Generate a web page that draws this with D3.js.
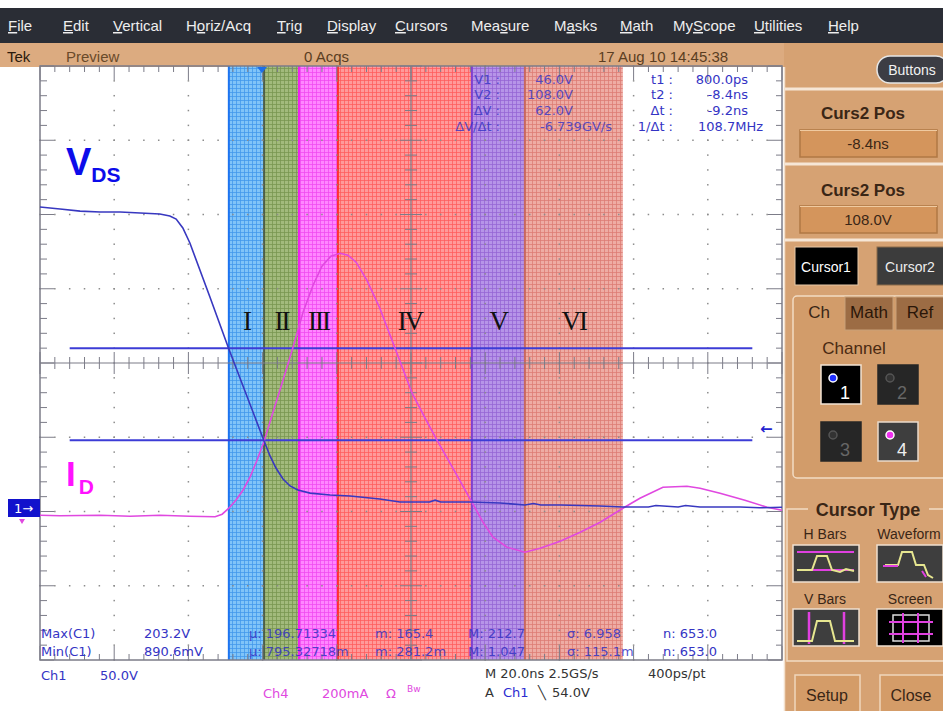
<!DOCTYPE html>
<html>
<head>
<meta charset="utf-8">
<script src="https://cdn.jsdelivr.net/npm/d3@7"></script>
<style>
body { margin: 0; background: #fff; }
svg { display: block; }
</style>
</head>
<body>
<div id="scope"></div>
<script>
// ---- data ----
var menuLabels = ["File", "Edit", "Vertical", "Horiz/Acq", "Trig", "Display", "Cursors", "Measure", "Masks", "Math", "MyScope", "Utilities", "Help"];
var menuUnderline = [0, 0, 0, 1, 0, 0, 0, 3, 1, 0, 2, 0, 0];

var phaseLabels = ["I", "II", "III", "IV", "V", "VI"];
var phaseStartNs = [-49.1, -39.6, -30.2, -19.7, 16.4, 30.7];
var phaseEndNs = [-39.6, -30.2, -19.7, 16.4, 30.7, 57.1];

// Ch1, V_DS in volts
var vdsTimeNs = [-100, -94.6, -89.2, -83.8, -78.4, -73.0, -67.7, -65.0, -63.3, -61.5, -59.6, -54.2, -49.1, -39.6, -38.0, -36.4, -34.5, -32.6, -30.5, -27.2, -21.8, -16.4, -8.4, -3.0, 5.0, 6.5, 8.0, 15.9, 24.0, 30.7, 33.0, 35.0, 40.2, 50.9, 57.1, 64.0, 66.0, 72.0, 74.0, 77.9, 88.7, 94.0, 100];
var vdsVolts = [203.0, 201.7, 200.3, 199.7, 199.7, 199.0, 198.3, 197.0, 194.9, 188.9, 178.8, 142.4, 107.4, 45.5, 35.4, 27.3, 19.9, 15.2, 12.5, 10.4, 9.1, 8.4, 6.4, 4.4, 4.4, 5.6, 4.4, 4.4, 3.7, 2.4, 3.4, 2.4, 2.4, 1.7, 1.0, 1.0, 2.0, 1.0, 2.0, 1.0, 1.0, 0.5, 0.9];

// Ch4, I_D in mA
var idTimeNs = [-100, -94.6, -83.8, -75.7, -67.7, -59.6, -52.8, -50.9, -49.1, -47.2, -45.3, -43.4, -41.5, -39.6, -37.2, -34.5, -31.8, -29.1, -26.4, -24.0, -21.6, -19.1, -17.0, -14.8, -11.9, -8.4, -4.3, 0.3, 3.8, 7.0, 11.9, 16.4, 19.4, 22.1, 25.9, 30.7, 34.8, 40.2, 45.6, 51.0, 57.1, 61.7, 67.9, 74.4, 77.9, 83.3, 90.0, 96.0, 100];
var idMilliamps = [0, -1.3, 0, -2.7, 0, -2.7, -4, 2.7, 18.9, 40.4, 67.3, 102.4, 148.1, 199.3, 277.4, 363.6, 452.5, 546.8, 619.5, 670.7, 697.6, 705.7, 700.3, 681.5, 633.0, 557.6, 449.8, 328.6, 261.3, 202.0, 115.8, 35.0, -18.9, -59.3, -86.2, -99.7, -88.9, -70.0, -45.8, -18.9, 18.9, 45.8, 75.4, 78.1, 72.7, 59.3, 40.4, 21.5, 13.5];

var cursorVolts = [46.0, 108.0];
var voltReadLabels = ["V1 :", "V2 :", "\u0394V :", "\u0394V/\u0394t :"];
var voltReadValues = ["46.0V", "108.0V", "62.0V", "-6.739GV/s"];
var timeReadLabels = ["t1 :", "t2 :", "\u0394t :", "1/\u0394t :"];
var timeReadValues = ["800.0ps", "-8.4ns", "-9.2ns", "108.7MHz"];

var measNames = ["Max(C1)", "Min(C1)"];
var measValues = ["203.2V", "890.6mV"];
var measMean = ["196.71334", "795.32718m"];
var measMin = ["165.4", "281.2m"];
var measMax = ["212.7", "1.047"];
var measSigma = ["6.958", "115.1m"];
var measCount = ["653.0", "653.0"];

var ch1VoltsPerDiv = 50, ch1Pos = -1.96;
var ch4MaPerDiv = 200, ch4Pos = -2.05;

// ---- layout ----
var W = 943, H = 711;
var plot = {left: 40, right: 782, top: 66, bottom: 660};
var phaseBase = ["#80c4f8", "#a2ba7c", "#ff86ff", "#ff9a9a", "#b694e8", "#eeaca4"];
var phaseLine = ["#4096ea", "#76944f", "#f048f0", "#ff5a5a", "#9464d4", "#dc7a72"];
var phaseEdge = ["#1c74f0", "#4f5f46", "#f020f0", "#ff3030", "#8040d0", "#c86860"];
var sansNarrow = "'Liberation Sans', Arial, sans-serif";
var scopeFont = "'DejaVu Sans', sans-serif";
var blueTxt = "#3434c4";

var svg = d3.select("#scope").append("svg")
    .attr("width", W)
    .attr("height", H);

var x = d3.scaleLinear().domain([-100, 100]).range([plot.left, plot.right]);
var yDiv = d3.scaleLinear().domain([-4, 4]).range([plot.bottom, plot.top]);
function yVds(v) { return yDiv(v / ch1VoltsPerDiv + ch1Pos); }
function yId(i) { return yDiv(i / ch4MaPerDiv + ch4Pos); }

svg.append("rect").attr("width", W).attr("height", H).attr("fill", "#fff");

// menu bar
svg.append("rect").attr("x", 0).attr("y", 8).attr("width", W).attr("height", 35).attr("fill", "#2a2d35");
var menuX = [8, 63, 113, 186, 277, 327, 395, 471, 554, 620, 673, 754, 828];
menuLabels.forEach(function(m, i) {
    var t = svg.append("text")
        .attr("x", menuX[i]).attr("y", 31)
        .attr("fill", "#eeeeee")
        .style("font-family", sansNarrow).style("font-size", "15px");
    var k = menuUnderline[i];
    if (k > 0) t.append("tspan").text(m.slice(0, k));
    t.append("tspan").text(m.charAt(k)).style("text-decoration", "underline");
    t.append("tspan").text(m.slice(k + 1));
});

// status row
svg.append("rect").attr("x", 0).attr("y", 43).attr("width", 785).attr("height", 24).attr("fill", "#dcab80");
var statusRow = [
    {t: "Tek", x: 7, c: "#2b1a0c"},
    {t: "Preview", x: 66, c: "#6a4a2a"},
    {t: "0 Acqs", x: 304, c: "#5a3e22"},
    {t: "17 Aug 10 14:45:38", x: 598, c: "#5a3e22"}
];
svg.selectAll(".status").data(statusRow).enter().append("text")
    .attr("x", function(d) { return d.x; }).attr("y", 62)
    .attr("fill", function(d) { return d.c; })
    .style("font-family", sansNarrow).style("font-size", "15px")
    .text(function(d) { return d.t; });

// ---- phase regions ----
var defs = svg.append("defs");
phaseLabels.forEach(function(p, i) {
    var pat = defs.append("pattern")
        .attr("id", "pat" + i)
        .attr("patternUnits", "userSpaceOnUse")
        .attr("width", 4).attr("height", 4);
    pat.append("rect").attr("width", 4).attr("height", 4).attr("fill", phaseBase[i]);
    pat.append("path").attr("d", "M0,0.5H4M0.5,0V4")
        .attr("stroke", phaseLine[i]).attr("stroke-width", 1).attr("stroke-opacity", 0.75);
});

var regions = svg.append("g");
phaseLabels.forEach(function(p, i) {
    regions.append("rect")
        .attr("x", x(phaseStartNs[i]))
        .attr("y", plot.top)
        .attr("width", x(phaseEndNs[i]) - x(phaseStartNs[i]))
        .attr("height", plot.bottom - plot.top)
        .attr("fill", "url(#pat" + i + ")");
    regions.append("line")
        .attr("x1", x(phaseStartNs[i])).attr("x2", x(phaseStartNs[i]))
        .attr("y1", plot.top).attr("y2", plot.bottom)
        .attr("stroke", phaseEdge[i]).attr("stroke-width", 2);
});

// ---- graticule ----
var grid = svg.append("g");
var minorT = d3.range(-100, 100.01, 4);
var minorD = d3.range(-4, 4.001, 0.2);
var majorT = d3.range(-80, 80.01, 20);
var majorD = d3.range(-3, 3.001, 1);
function isMajorT(t) { return Math.abs(t / 20 - Math.round(t / 20)) < 1e-6; }
function isMajorD(d) { return Math.abs(d - Math.round(d)) < 1e-6; }

majorT.forEach(function(t) {
    if (t === 0) return;
    minorD.forEach(function(d) {
        grid.append("rect").attr("x", x(t) - 0.75).attr("y", yDiv(d) - 0.75)
            .attr("width", 1.5).attr("height", 1.5).attr("fill", "#8c8c8c");
    });
});
majorD.forEach(function(d) {
    if (d === 0) return;
    minorT.forEach(function(t) {
        grid.append("rect").attr("x", x(t) - 0.75).attr("y", yDiv(d) - 0.75)
            .attr("width", 1.5).attr("height", 1.5).attr("fill", "#8c8c8c");
    });
});

var gStroke = "#7c7c88";
// center cross
grid.append("line").attr("x1", plot.left).attr("x2", plot.right)
    .attr("y1", yDiv(0)).attr("y2", yDiv(0)).attr("stroke", gStroke).attr("stroke-width", 1.2);
grid.append("line").attr("x1", x(0)).attr("x2", x(0))
    .attr("y1", plot.top).attr("y2", plot.bottom).attr("stroke", gStroke).attr("stroke-width", 1.2);
minorT.forEach(function(t) {
    var h = isMajorT(t) ? 11 : 6;
    grid.append("line").attr("x1", x(t)).attr("x2", x(t))
        .attr("y1", yDiv(0) - h).attr("y2", yDiv(0) + h).attr("stroke", gStroke);
    grid.append("line").attr("x1", x(t)).attr("x2", x(t))
        .attr("y1", plot.top).attr("y2", plot.top + (isMajorT(t) ? 14 : 6)).attr("stroke", gStroke);
    grid.append("line").attr("x1", x(t)).attr("x2", x(t))
        .attr("y1", plot.bottom).attr("y2", plot.bottom - (isMajorT(t) ? 14 : 6)).attr("stroke", gStroke);
});
minorD.forEach(function(d) {
    var h = isMajorD(d) ? 11 : 6;
    grid.append("line").attr("y1", yDiv(d)).attr("y2", yDiv(d))
        .attr("x1", x(0) - h).attr("x2", x(0) + h).attr("stroke", gStroke);
    grid.append("line").attr("y1", yDiv(d)).attr("y2", yDiv(d))
        .attr("x1", plot.left).attr("x2", plot.left + (isMajorD(d) ? 14 : 7)).attr("stroke", gStroke);
    grid.append("line").attr("y1", yDiv(d)).attr("y2", yDiv(d))
        .attr("x1", plot.right).attr("x2", plot.right - (isMajorD(d) ? 14 : 6)).attr("stroke", gStroke);
});
grid.append("rect")
    .attr("x", plot.left).attr("y", plot.top)
    .attr("width", plot.right - plot.left).attr("height", plot.bottom - plot.top)
    .attr("fill", "none").attr("stroke", gStroke).attr("stroke-width", 1.5);

// ---- H bar cursors ----
svg.selectAll(".cursor").data(cursorVolts).enter().append("line")
    .attr("x1", x(-92)).attr("x2", x(92))
    .attr("y1", function(d) { return yVds(d); })
    .attr("y2", function(d) { return yVds(d); })
    .attr("stroke", "#3c3cd6").attr("stroke-width", 2);

// ---- waveforms ----
var vdsData = vdsTimeNs.map(function(t, i) { return {t: t, v: vdsVolts[i]}; });
var idData = idTimeNs.map(function(t, i) { return {t: t, v: idMilliamps[i]}; });

svg.append("path").datum(idData)
    .attr("fill", "none").attr("stroke", "#e048e0").attr("stroke-width", 1.6)
    .attr("d", d3.line().x(function(d) { return x(d.t); }).y(function(d) { return yId(d.v); }));
svg.append("path").datum(vdsData)
    .attr("fill", "none").attr("stroke", "#3838c0").attr("stroke-width", 1.6)
    .attr("d", d3.line().x(function(d) { return x(d.t); }).y(function(d) { return yVds(d.v); }));

// ---- labels ----
var vdsLbl = svg.append("text").attr("x", 66).attr("y", 175)
    .attr("fill", "#0c0cea").style("font-family", sansNarrow).style("font-weight", "bold");
vdsLbl.append("tspan").text("V").style("font-size", "38px");
vdsLbl.append("tspan").text("DS").attr("dy", 7).style("font-size", "21px");
var idLbl = svg.append("text").attr("x", 66).attr("y", 486)
    .attr("fill", "#ff12ff").style("font-family", sansNarrow).style("font-weight", "bold");
idLbl.append("tspan").text("I").style("font-size", "35px");
idLbl.append("tspan").text("D").attr("dx", 3).attr("dy", 8).style("font-size", "21px");

svg.selectAll(".phase").data(phaseLabels).enter().append("text")
    .attr("x", function(d, i) { return (x(phaseStartNs[i]) + x(phaseEndNs[i])) / 2 + (d === "IV" ? 5 : 0); })
    .attr("y", 330)
    .attr("text-anchor", "middle")
    .attr("fill", "#111")
    .style("font-family", "'Liberation Serif', 'Times New Roman', serif")
    .style("font-size", "27px")
    .style("letter-spacing", "-2px")
    .text(function(d) { return d; });

// ---- cursor readouts ----
var readY = [84, 99, 115, 131];
var ro = svg.append("g").style("font-family", scopeFont).style("font-size", "13px").attr("fill", blueTxt);
voltReadLabels.forEach(function(l, i) {
    ro.append("text").attr("x", 500).attr("y", readY[i]).attr("text-anchor", "end").attr("opacity", 0.8).text(l);
    ro.append("text").attr("x", i === 3 ? 612 : 573).attr("y", readY[i]).attr("text-anchor", "end").attr("opacity", 0.8).text(voltReadValues[i]);
});
timeReadLabels.forEach(function(l, i) {
    ro.append("text").attr("x", 673).attr("y", readY[i]).attr("text-anchor", "end").text(l);
    ro.append("text").attr("x", i === 3 ? 763 : 748).attr("y", readY[i]).attr("text-anchor", "end").text(timeReadValues[i]);
});

// ---- measurements at the bottom of the graticule ----
var measY = [638, 656];
var mg = svg.append("g").style("font-family", scopeFont).style("font-size", "13px").attr("fill", blueTxt);
measNames.forEach(function(n, i) {
    mg.append("text").attr("x", 41).attr("y", measY[i]).text(n);
    mg.append("text").attr("x", 144).attr("y", measY[i]).text(measValues[i]);
    mg.append("text").attr("x", 249).attr("y", measY[i]).attr("opacity", 0.85).text("\u03bc: " + measMean[i]);
    mg.append("text").attr("x", 375).attr("y", measY[i]).attr("opacity", 0.85).text("m: " + measMin[i]);
    mg.append("text").attr("x", 468).attr("y", measY[i]).attr("opacity", 0.85).text("M: " + measMax[i]);
    mg.append("text").attr("x", 567).attr("y", measY[i]).attr("opacity", 0.85).text("\u03c3: " + measSigma[i]);
    mg.append("text").attr("x", 663).attr("y", measY[i]).text("n: " + measCount[i]);
});

// ---- markers ----
svg.append("rect").attr("x", 8).attr("y", 499).attr("width", 32).attr("height", 18).attr("fill", "#1212cc");
svg.append("text").attr("x", 14).attr("y", 513).attr("fill", "#fff")
    .style("font-family", scopeFont).style("font-size", "13px").text("1\u2192");
svg.append("path").attr("d", "M19,519 L25,519 L22,524 Z").attr("fill", "#e048e0");
svg.append("text").attr("x", 760).attr("y", 434).attr("fill", "#2424d0")
    .style("font-family", scopeFont).style("font-size", "15px").style("font-weight", "bold").text("\u2190");
svg.append("path").attr("d", "M257,67 L267,67 L262,73 Z").attr("fill", "#1e6ee8");

// ---- channel / timebase info ----
var info = svg.append("g").style("font-family", scopeFont).style("font-size", "13px");
info.append("text").attr("x", 41).attr("y", 680).attr("fill", blueTxt).text("Ch1");
info.append("text").attr("x", 100).attr("y", 680).attr("fill", blueTxt).text("50.0V");
info.append("text").attr("x", 263).attr("y", 698).attr("fill", "#e048e0").text("Ch4");
info.append("text").attr("x", 322).attr("y", 698).attr("fill", "#e048e0").text("200mA");
info.append("text").attr("x", 386).attr("y", 698).attr("fill", "#e048e0").text("\u03a9");
info.append("text").attr("x", 407).attr("y", 692).attr("fill", "#e048e0").style("font-size", "9px").text("Bw");
info.append("text").attr("x", 485).attr("y", 678).attr("fill", "#333").text("M 20.0ns 2.5GS/s");
info.append("text").attr("x", 648).attr("y", 678).attr("fill", "#333").text("400ps/pt");
info.append("text").attr("x", 485).attr("y", 697).attr("fill", "#333").text("A");
info.append("text").attr("x", 503).attr("y", 697).attr("fill", "#2c2cd0").text("Ch1");
info.append("text").attr("x", 538).attr("y", 697).attr("fill", "#333").text("\u2572");
info.append("text").attr("x", 552).attr("y", 697).attr("fill", "#333").text("54.0V");

// ---- right side panel ----
var panel = svg.append("g").style("font-family", sansNarrow);
var tan = "#d6a273", tanDark = "#9c6c44", brownTxt = "#3a2616";
panel.append("rect").attr("x", 784).attr("y", 43).attr("width", W - 784).attr("height", H - 43).attr("fill", tan);
panel.append("line").attr("x1", 784.5).attr("x2", 784.5).attr("y1", 67).attr("y2", H).attr("stroke", "#f3e0cc").attr("stroke-width", 1.5);

panel.append("rect").attr("x", 877).attr("y", 56).attr("width", 72).attr("height", 27).attr("rx", 13)
    .attr("fill", "#3c3d44").attr("stroke", "#e6e6e6").attr("stroke-width", 1.5);
panel.append("text").attr("x", 912).attr("y", 75).attr("text-anchor", "middle").attr("fill", "#f2f2f2")
    .style("font-size", "14px").text("Buttons");

[89, 164, 240].forEach(function(yy) {
    panel.append("line").attr("x1", 785).attr("x2", W).attr("y1", yy).attr("y2", yy).attr("stroke", "#f6e6d6").attr("stroke-width", 3);
});
var posBoxes = [{title: "Curs2 Pos", value: "-8.4ns", ty: 119, by: 130}, {title: "Curs2 Pos", value: "108.0V", ty: 196, by: 206}];
posBoxes.forEach(function(b) {
    panel.append("text").attr("x", 863).attr("y", b.ty).attr("text-anchor", "middle").attr("fill", brownTxt)
        .style("font-size", "17px").style("font-weight", "bold").text(b.title);
    panel.append("rect").attr("x", 800).attr("y", b.by).attr("width", 137).attr("height", 27)
        .attr("fill", "#d4955c").attr("stroke", "#b07844").attr("stroke-width", 1.5);
    panel.append("line").attr("x1", 800).attr("x2", 937).attr("y1", b.by + 0.5).attr("y2", b.by + 0.5).attr("stroke", "#f0caa0");
    panel.append("text").attr("x", 868).attr("y", b.by + 19).attr("text-anchor", "middle").attr("fill", brownTxt)
        .style("font-size", "15px").text(b.value);
});

panel.append("rect").attr("x", 795).attr("y", 247).attr("width", 63).attr("height", 38).attr("fill", "#000").attr("stroke", "#e6c8a8");
panel.append("text").attr("x", 826).attr("y", 272).attr("text-anchor", "middle").attr("fill", "#fff").style("font-size", "14px").text("Cursor1");
panel.append("rect").attr("x", 877).attr("y", 247).attr("width", 70).attr("height", 38).attr("fill", "#3c3c3c").attr("stroke", "#8a6a4a");
panel.append("text").attr("x", 910).attr("y", 272).attr("text-anchor", "middle").attr("fill", "#eee").style("font-size", "14px").text("Cursor2");

// channel tabs
panel.append("rect").attr("x", 793).attr("y", 296).attr("width", 155).attr("height", 182).attr("rx", 4)
    .attr("fill", "#d29c6a").attr("stroke", "#f2dcc4").attr("stroke-width", 1.5);
panel.append("rect").attr("x", 845).attr("y", 297).attr("width", 48).attr("height", 33).attr("fill", tanDark).attr("stroke", "#c8a078");
panel.append("rect").attr("x", 896).attr("y", 297).attr("width", 52).attr("height", 33).attr("fill", tanDark).attr("stroke", "#c8a078");
panel.append("text").attr("x", 819).attr("y", 318).attr("text-anchor", "middle").attr("fill", brownTxt).style("font-size", "17px").text("Ch");
panel.append("text").attr("x", 869).attr("y", 318).attr("text-anchor", "middle").attr("fill", "#2a1608").style("font-size", "17px").text("Math");
panel.append("text").attr("x", 920).attr("y", 318).attr("text-anchor", "middle").attr("fill", "#2a1608").style("font-size", "17px").text("Ref");
panel.append("text").attr("x", 854).attr("y", 354).attr("text-anchor", "middle").attr("fill", "#4a2a12").style("font-size", "17px").text("Channel");

var chans = [
    {n: "1", x: 821, y: 365, bg: "#000", dot: "#2030ff", txt: "#fff", edge: "#f4e4d4"},
    {n: "2", x: 878, y: 365, bg: "#262626", dot: "#333", txt: "#666", edge: "#262626"},
    {n: "3", x: 821, y: 422, bg: "#262626", dot: "#333", txt: "#666", edge: "#262626"},
    {n: "4", x: 878, y: 422, bg: "#3e3e3e", dot: "#f030f0", txt: "#eee", edge: "#eadacb"}
];
chans.forEach(function(c) {
    panel.append("rect").attr("x", c.x).attr("y", c.y).attr("width", 40).attr("height", 39)
        .attr("fill", c.bg).attr("stroke", c.edge).attr("stroke-width", 1.5);
    panel.append("circle").attr("cx", c.x + 12).attr("cy", c.y + 13).attr("r", 4)
        .attr("fill", c.dot).attr("stroke", c.n === "1" || c.n === "4" ? "#fff" : "#555").attr("stroke-width", 1.5);
    panel.append("text").attr("x", c.x + 19).attr("y", c.y + 34).attr("fill", c.txt).style("font-size", "18px").text(c.n);
});

// cursor type group
panel.append("rect").attr("x", 787).attr("y", 509).attr("width", 170).attr("height", 152)
    .attr("fill", "none").attr("stroke", "#f2dcc4").attr("stroke-width", 1.5);
panel.append("rect").attr("x", 808).attr("y", 498).attr("width", 121).attr("height", 22).attr("fill", tan);
panel.append("text").attr("x", 868).attr("y", 516).attr("text-anchor", "middle").attr("fill", brownTxt)
    .style("font-size", "18px").style("font-weight", "bold").text("Cursor Type");
var ctLabels = [{t: "H Bars", x: 825, y: 539}, {t: "Waveform", x: 909, y: 539}, {t: "V Bars", x: 825, y: 604}, {t: "Screen", x: 910, y: 604}];
ctLabels.forEach(function(l) {
    panel.append("text").attr("x", l.x).attr("y", l.y).attr("text-anchor", "middle").attr("fill", brownTxt)
        .style("font-size", "14px").text(l.t);
});
var icons = [{x: 793, y: 545, bg: "#3e3e3e"}, {x: 877, y: 545, bg: "#3e3e3e"}, {x: 793, y: 609, bg: "#3e3e3e"}, {x: 877, y: 609, bg: "#000"}];
icons.forEach(function(ic) {
    panel.append("rect").attr("x", ic.x).attr("y", ic.y).attr("width", 66).attr("height", 37)
        .attr("fill", ic.bg).attr("stroke", "#f0e0d0").attr("stroke-width", 1.5);
});
var pulse = "#e6e690", pink = "#e040e0";
panel.append("path").attr("d", "M797,552H854M797,570H854").attr("stroke", pink).attr("stroke-width", 2);
panel.append("path").attr("d", "M797,570H812L817,556H827L832,570L840,572L846,569L854,571").attr("fill", "none").attr("stroke", pulse).attr("stroke-width", 2);
panel.append("path").attr("d", "M885,565H898L902,552H912L916,565H924L928,575L933,578").attr("fill", "none").attr("stroke", pulse).attr("stroke-width", 2);
panel.append("path").attr("d", "M883,566H898M922,571L926,577").attr("stroke", pink).attr("stroke-width", 2);
panel.append("path").attr("d", "M809,612V644M844,612V644").attr("stroke", pink).attr("stroke-width", 2.5);
panel.append("path").attr("d", "M797,641H812L817,621H830L835,641H854").attr("fill", "none").attr("stroke", pulse).attr("stroke-width", 2);
panel.append("rect").attr("x", 893).attr("y", 615).attr("width", 36).attr("height", 26).attr("fill", "none").attr("stroke", "#ddd").attr("stroke-width", 1.5);
panel.append("path").attr("d", "M903,613V643M918,613V643M889,622H933M889,634H933").attr("stroke", pink).attr("stroke-width", 2);

[{t: "Setup", x: 795, w: 65, cx: 827}, {t: "Close", x: 880, w: 68, cx: 911}].forEach(function(b) {
    panel.append("rect").attr("x", b.x).attr("y", 675).attr("width", b.w).attr("height", 40)
        .attr("fill", "#d49c68").attr("stroke", "#f0d6bc").attr("stroke-width", 1.5);
    panel.append("text").attr("x", b.cx).attr("y", 701).attr("text-anchor", "middle").attr("fill", brownTxt)
        .style("font-size", "16px").text(b.t);
});
</script>
</body>
</html>
